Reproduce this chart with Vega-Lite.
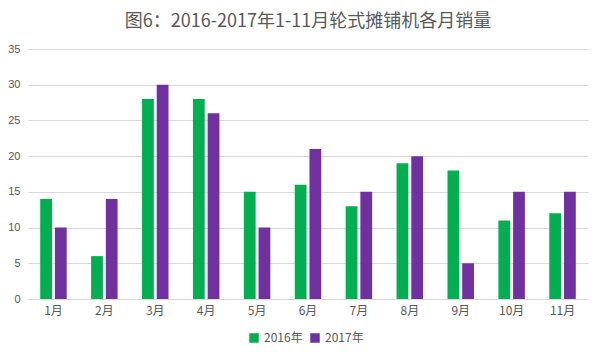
{
  "$schema": "https://vega.github.io/schema/vega-lite/v6.json",
  "autosize": "none",
  "width": 560,
  "height": 250,
  "padding": {"left": 28, "top": 49, "right": 12, "bottom": 61},
  "background": "white",
  "title": {
    "text": "图6：2016-2017年1-11月轮式摊铺机各月销量",
    "fontSize": 18,
    "font": "Noto Sans CJK SC",
    "fontWeight": "normal",
    "color": "#595959",
    "offset": 12,
    "anchor": "middle"
  },
  "data": {
    "values": [
      {"month": "1月", "year": "2016年", "sales": 14},
      {"month": "1月", "year": "2017年", "sales": 10},
      {"month": "2月", "year": "2016年", "sales": 6},
      {"month": "2月", "year": "2017年", "sales": 14},
      {"month": "3月", "year": "2016年", "sales": 28},
      {"month": "3月", "year": "2017年", "sales": 30},
      {"month": "4月", "year": "2016年", "sales": 28},
      {"month": "4月", "year": "2017年", "sales": 26},
      {"month": "5月", "year": "2016年", "sales": 15},
      {"month": "5月", "year": "2017年", "sales": 10},
      {"month": "6月", "year": "2016年", "sales": 16},
      {"month": "6月", "year": "2017年", "sales": 21},
      {"month": "7月", "year": "2016年", "sales": 13},
      {"month": "7月", "year": "2017年", "sales": 15},
      {"month": "8月", "year": "2016年", "sales": 19},
      {"month": "8月", "year": "2017年", "sales": 20},
      {"month": "9月", "year": "2016年", "sales": 18},
      {"month": "9月", "year": "2017年", "sales": 5},
      {"month": "10月", "year": "2016年", "sales": 11},
      {"month": "10月", "year": "2017年", "sales": 15},
      {"month": "11月", "year": "2016年", "sales": 12},
      {"month": "11月", "year": "2017年", "sales": 15}
    ]
  },
  "mark": {"type": "bar"},
  "encoding": {
    "x": {
      "field": "month",
      "type": "nominal",
      "sort": null,
      "scale": {"paddingInner": 0.48, "paddingOuter": 0.24},
      "axis": {
        "title": null,
        "labelAngle": 0,
        "ticks": false,
        "domainColor": "#d9d9d9",
        "labelColor": "#595959",
        "labelFontSize": 12,
        "labelFont": "Noto Sans CJK SC",
        "labelPadding": 6
      }
    },
    "xOffset": {
      "field": "year",
      "type": "nominal",
      "scale": {"paddingInner": 0.2}
    },
    "y": {
      "field": "sales",
      "type": "quantitative",
      "scale": {"domain": [0, 35]},
      "axis": {
        "title": null,
        "values": [0, 5, 10, 15, 20, 25, 30, 35],
        "ticks": false,
        "domain": false,
        "gridColor": "#d9d9d9",
        "labelColor": "#595959",
        "labelFontSize": 11,
        "labelFont": "Liberation Sans",
        "labelPadding": 8
      }
    },
    "color": {
      "field": "year",
      "type": "nominal",
      "scale": {"domain": ["2016年", "2017年"], "range": ["#00B050", "#7030A0"]},
      "legend": {
        "title": null,
        "orient": "none",
        "legendX": 220,
        "legendY": 283,
        "direction": "horizontal",
        "symbolType": "square",
        "symbolSize": 90,
        "symbolStrokeWidth": 0,
        "labelColor": "#595959",
        "labelFontSize": 12,
        "labelFont": "Noto Sans CJK SC",
        "columnPadding": 6
      }
    }
  },
  "config": {
    "view": {"stroke": null}
  }
}
